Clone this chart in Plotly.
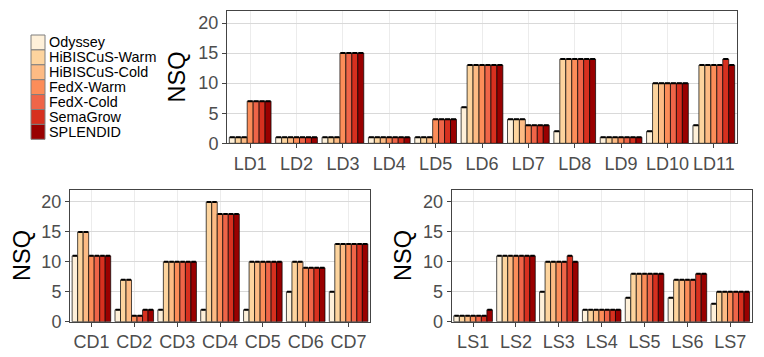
import plotly.graph_objects as go

W, H = 764, 357

SYSTEMS = ["Odyssey", "HiBISCuS-Warm", "HiBISCuS-Cold", "FedX-Warm",
           "FedX-Cold", "SemaGrow", "SPLENDID"]
COLORS = ["#fef0d9", "#fdd49e", "#fdbb84", "#fc8d59", "#ef6548", "#d7301f", "#990000"]

# LargeRDFBench LD queries
ld_queries = ["LD1", "LD2", "LD3", "LD4", "LD5", "LD6", "LD7", "LD8", "LD9", "LD10", "LD11"]
odyssey_ld = [1, 1, 1, 1, 1, 6, 4, 2, 1, 2, 3]
hibiscus_warm_ld = [1, 1, 1, 1, 1, 13, 4, 14, 1, 10, 13]
hibiscus_cold_ld = [1, 1, 1, 1, 1, 13, 4, 14, 1, 10, 13]
fedx_warm_ld = [7, 1, 15, 1, 4, 13, 3, 14, 1, 10, 13]
fedx_cold_ld = [7, 1, 15, 1, 4, 13, 3, 14, 1, 10, 13]
semagrow_ld = [7, 1, 15, 1, 4, 13, 3, 14, 1, 10, 14]
splendid_ld = [7, 1, 15, 1, 4, 13, 3, 14, 1, 10, 13]

# CD queries
cd_queries = ["CD1", "CD2", "CD3", "CD4", "CD5", "CD6", "CD7"]
odyssey_cd = [11, 2, 2, 2, 2, 5, 5]
hibiscus_warm_cd = [15, 7, 10, 20, 10, 10, 13]
hibiscus_cold_cd = [15, 7, 10, 20, 10, 10, 13]
fedx_warm_cd = [11, 1, 10, 18, 10, 9, 13]
fedx_cold_cd = [11, 1, 10, 18, 10, 9, 13]
semagrow_cd = [11, 2, 10, 18, 10, 9, 13]
splendid_cd = [11, 2, 10, 18, 10, 9, 13]

# LS queries
ls_queries = ["LS1", "LS2", "LS3", "LS4", "LS5", "LS6", "LS7"]
odyssey_ls = [1, 11, 5, 2, 4, 4, 3]
hibiscus_warm_ls = [1, 11, 10, 2, 8, 7, 5]
hibiscus_cold_ls = [1, 11, 10, 2, 8, 7, 5]
fedx_warm_ls = [1, 11, 10, 2, 8, 7, 5]
fedx_cold_ls = [1, 11, 10, 2, 8, 7, 5]
semagrow_ls = [1, 11, 11, 2, 8, 8, 5]
splendid_ls = [2, 11, 10, 2, 8, 8, 5]

PANELS = [
    ("x", "y", ld_queries, [odyssey_ld, hibiscus_warm_ld, hibiscus_cold_ld, fedx_warm_ld,
                            fedx_cold_ld, semagrow_ld, splendid_ld], 2.5),
    ("x2", "y2", cd_queries, [odyssey_cd, hibiscus_warm_cd, hibiscus_cold_cd, fedx_warm_cd,
                              fedx_cold_cd, semagrow_cd, splendid_cd], 2.2),
    ("x3", "y3", ls_queries, [odyssey_ls, hibiscus_warm_ls, hibiscus_cold_ls, fedx_warm_ls,
                              fedx_cold_ls, semagrow_ls, splendid_ls], 2.2),
]

FONT = "Liberation Sans, Arial, sans-serif"
TICK_GREY = "#4d4d4d"


def px_x(p):
    return p / W


def px_y(p):
    return 1 - p / H


fig = go.Figure()

for xa, ya, cats, series, cap in PANELS:
    for name, color, vals in zip(SYSTEMS, COLORS, series):
        fig.add_trace(go.Bar(
            x=cats, y=vals, name=name, xaxis=xa, yaxis=ya, showlegend=False,
            marker=dict(color=color, line=dict(color="black", width=0.7)),
            error_y=dict(type="data", array=[0] * len(vals), visible=True,
                         color="black", thickness=2, width=cap),
        ))

axis_common = dict(
    showline=True, mirror=True, linecolor="#444", linewidth=1,
    ticks="outside", ticklen=4, tickcolor="#444",
    tickfont=dict(family=FONT, size=18, color=TICK_GREY),
    showgrid=True, gridcolor="#e5e5e5", gridwidth=1,
    zeroline=False, automargin=False, fixedrange=True,
)

domains = {
    "": ((227, 737), (11, 143.3)),
    "2": ((70, 370), (190, 321.7)),
    "3": ((451.7, 751.7), (190, 321.7)),
}
layout_axes = {}
for suffix, ((x0, x1), (y0, y1)) in domains.items():
    layout_axes["xaxis" + suffix] = dict(
        axis_common, domain=[px_x(x0), px_x(x1)], anchor="y" + suffix,
        gridcolor="#ececec")
    layout_axes["yaxis" + suffix] = dict(
        axis_common, domain=[px_y(y1), px_y(y0)], anchor="x" + suffix,
        range=[0, 22], tickvals=[0, 5, 10, 15, 20], gridcolor="#d9d9d9")

annotations = []
for xc, yc in [(176.5, 77), (22, 256), (403, 256)]:
    annotations.append(dict(
        text="NSQ", x=px_x(xc), y=px_y(yc), xref="paper", yref="paper",
        showarrow=False, textangle=-90, xanchor="center", yanchor="middle",
        font=dict(family=FONT, size=23.5, color="black")))

# legend drawn by hand so the keys sit as tightly as in the original
shapes = []
key_top, key_h = 35, 14.9
for i, (name, color) in enumerate(zip(SYSTEMS, COLORS)):
    t = key_top + i * key_h
    shapes.append(dict(type="rect", xref="paper", yref="paper",
                       x0=px_x(31), x1=px_x(45), y0=px_y(t + key_h), y1=px_y(t),
                       fillcolor=color, line=dict(color="#7f7f7f", width=1)))
    annotations.append(dict(
        text=name, x=px_x(47), y=px_y(t + key_h / 2), xref="paper", yref="paper",
        showarrow=False, xanchor="left", yanchor="middle",
        font=dict(family=FONT, size=14.4, color="black")))

fig.update_layout(
    width=W, height=H,
    margin=dict(l=0, r=0, t=0, b=0),
    template="none",
    paper_bgcolor="white", plot_bgcolor="white",
    barmode="group", bargap=0.1, bargroupgap=0,
    showlegend=False,
    annotations=annotations,
    shapes=shapes,
    font=dict(family=FONT),
    **layout_axes,
)

# the page body has a default 8px margin; drop it so the figure fills the window
fig.write_html("out.html", config={"displayModeBar": False},
               post_script="document.body.style.margin = '0';")
